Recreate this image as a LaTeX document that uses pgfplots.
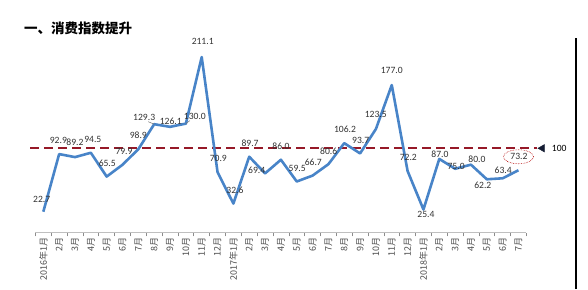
\documentclass[border=0pt]{standalone}
\usepackage{pgfplots}
\usepackage{pgfplotstable}
\pgfplotsset{compat=1.18}
\usepackage{fontspec}
\setmainfont{Carlito}
\newfontfamily\cjk{Noto Sans CJK SC}
\definecolor{lineblue}{RGB}{72,132,200}
\definecolor{refred}{RGB}{150,25,40}
\definecolor{labgray}{RGB}{50,50,50}
\definecolor{navy}{RGB}{20,28,50}

\pgfplotstableread{
x y
0 22.7
1 92.9
2 89.2
3 94.5
4 65.5
5 79.9
6 98.9
7 129.3
8 126.1
9 130.0
10 211.1
11 70.9
12 32.6
13 89.7
14 69.4
15 86.0
16 59.5
17 66.7
18 80.6
19 106.2
20 93.7
21 123.5
22 177.0
23 72.2
24 25.4
25 87.0
26 75.0
27 80.0
28 62.2
29 63.4
30 73.2
}\datatable

\newcommand{\lab}[4]{\node[labstyle,xshift=#3pt,yshift=#4pt] at (axis cs:#1,#2) {#2};}

\begin{document}
\begin{tikzpicture}[labstyle/.style={font=\fontsize{9.6}{10}\selectfont, text=labgray, inner sep=0pt}]
\path[use as bounding box] (0,0) rectangle (588pt,289pt);
\node[anchor=west, inner sep=0pt, font=\cjk\bfseries\fontsize{13.5}{14}\selectfont] at (24pt,261pt) {一、消费指数提升};
\draw[black, line width=2pt] (576pt,0pt) -- (576pt,251pt);
\begin{axis}[
  at={(35.4pt,56.2pt)}, anchor=south west,
  scale only axis, width=491pt, height=192.9pt,
  xmin=-0.5, xmax=30.5, ymin=-3, ymax=232,
  axis x line*=bottom, axis y line=none,
  x axis line style={draw=black!25, line width=0.8pt, -},
  xtick={0,...,30},
  xticklabels={2016年1月,2月,3月,4月,5月,6月,7月,8月,9月,10月,11月,12月,2017年1月,2月,3月,4月,5月,6月,7月,8月,9月,10月,11月,12月,2018年1月,2月,3月,4月,5月,6月,7月},
  major tick length=0pt,
  minor xtick={-0.5,0.5,...,30.5},
  minor tick length=3.5pt, tick align=outside,
  minor tick style={black!45, line width=0.6pt},
  xticklabel shift=3.5pt,
  xticklabel style={rotate=90, anchor=east, font=\cjk\fontsize{9}{9}\selectfont, text=black!70, inner sep=1pt},
  clip=false,
]
\addplot[refred, line width=1.6pt, dash pattern=on 9pt off 5pt] coordinates {(-0.84,100) (31.2,100)};
\addplot[only marks, mark=triangle*, mark size=4.3pt, mark options={rotate=90, fill=navy, draw=navy}] coordinates {(31.5,100)};
\node[anchor=west, inner sep=0pt, font=\fontsize{9.6}{10}\selectfont] at (axis cs:32.1,100) {100};
\addplot[lineblue, line width=2.6pt, line join=round] table[x=x,y=y] {\datatable};
\lab{0}{22.7}{-1.6}{12.4}
\lab{1}{92.9}{-0.8}{14}
\lab{2}{89.2}{0}{14.4}
\lab{3}{94.5}{2}{13.4}
\lab{4}{65.5}{0.6}{13.2}
\lab{5}{79.9}{1.5}{13.7}
\lab{6}{98.9}{0}{13.4}
\lab{7}{129.3}{-10}{7}
\lab{8}{126.1}{0.7}{5.5}
\lab{9}{130.0}{9}{7}
\lab{10}{211.1}{1}{16}
\lab{11}{70.9}{0.8}{13.8}
\lab{12}{32.6}{1.6}{12.8}
\lab{13}{89.7}{0.8}{13.4}
\lab{14}{69.4}{-8.4}{3.3}
\lab{15}{86.0}{0}{13.7}
\lab{16}{59.5}{0.5}{13.2}
\lab{17}{66.7}{0.7}{13.2}
\lab{18}{80.6}{0.3}{13.4}
\lab{19}{106.2}{0.7}{13.8}
\lab{20}{93.7}{0.6}{13.4}
\lab{21}{123.5}{-0.2}{14.2}
\lab{22}{177.0}{0}{15}
\lab{23}{72.2}{0.7}{13.7}
\lab{24}{25.4}{2.5}{-5}
\lab{25}{87.0}{0.7}{4.5}
\lab{26}{75.0}{1}{2}
\lab{27}{80.0}{6}{5.5}
\lab{28}{62.2}{-4}{-6.5}
\lab{29}{63.4}{0.6}{8}
\lab{30}{73.2}{0.5}{13.5}
\draw[black!55, line width=0.5pt] (axis cs:7,129.3) -- ++(-6pt,2.5pt);
\draw[black!55, line width=0.5pt] (axis cs:9,130.0) -- ++(4pt,3pt);
\draw[red!70!black, densely dotted, line width=0.6pt] (axis cs:30,73.2) ++(0pt,13.5pt) ellipse (15pt and 7pt);
\end{axis}
\end{tikzpicture}
\end{document}
